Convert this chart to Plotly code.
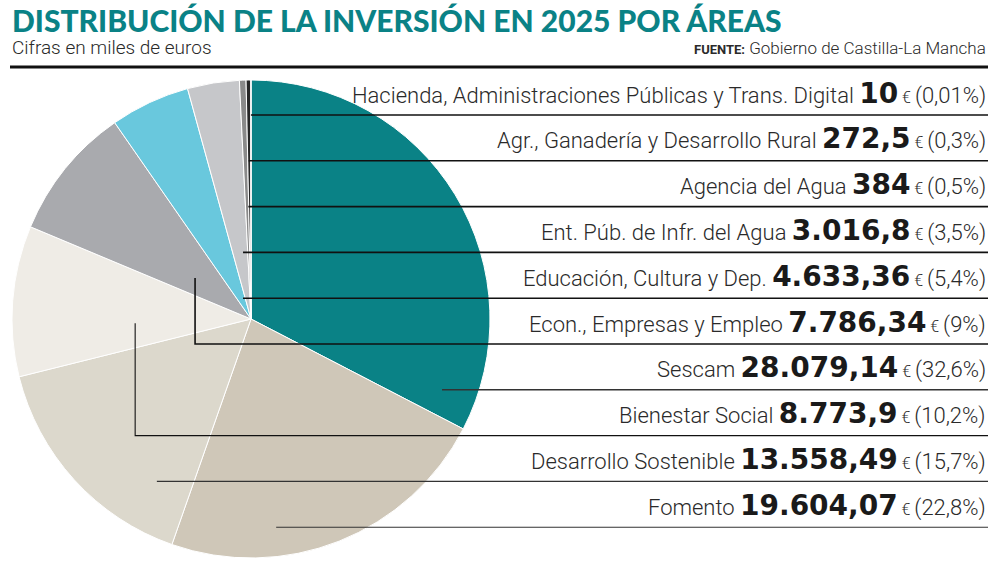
import math
import plotly.graph_objects as go

# ---- data (clockwise from 12 o'clock) ----
areas = ["Sescam", "Fomento", "Desarrollo Sostenible", "Bienestar Social",
         "Econ., Empresas y Empleo", "Educación, Cultura y Dep.",
         "Ent. Púb. de Infr. del Agua", "Agencia del Agua",
         "Agr., Ganadería y Desarrollo Rural",
         "Hacienda, Administraciones Públicas y Trans. Digital"]
values = [28079.14, 19604.07, 13558.49, 8773.9, 7786.34, 4633.36, 3016.8, 384, 272.5, 10]
value_text = ["28.079,14", "19.604,07", "13.558,49", "8.773,9", "7.786,34",
              "4.633,36", "3.016,8", "384", "272,5", "10"]
pct_text = ["32,6%", "22,8%", "15,7%", "10,2%", "9%", "5,4%", "3,5%", "0,5%", "0,3%", "0,01%"]
colors = ["#0a8286", "#cfc7b8", "#dcd8cc", "#efece6", "#a9aaae", "#69c8dd",
          "#c6c7ca", "#8a8a8a", "#262626", "#111111"]
# order of the label list, top to bottom
label_order = ["Hacienda, Administraciones Públicas y Trans. Digital",
               "Agr., Ganadería y Desarrollo Rural", "Agencia del Agua",
               "Ent. Púb. de Infr. del Agua", "Educación, Cultura y Dep.",
               "Econ., Empresas y Empleo", "Sescam", "Bienestar Social",
               "Desarrollo Sostenible", "Fomento"]
# leader anchor: (mode, fraction of slice angle, radius fraction for elbows)
anchors = {"Sescam": ("h", 0.94, None), "Fomento": ("h", 0.68, None),
           "Desarrollo Sostenible": ("h", 0.19, None),
           "Bienestar Social": ("e", 0.325, 0.485),
           "Econ., Empresas y Empleo": ("e", 0.415, 0.29),
           "Educación, Cultura y Dep.": ("h", 0.71, None),
           "Ent. Púb. de Infr. del Agua": ("h", 0.68, None),
           "Agencia del Agua": ("h", 0.9, None),
           "Agr., Ganadería y Desarrollo Rural": ("h", 0.3, None),
           "Hacienda, Administraciones Públicas y Trans. Digital": ("h", 0.5, None)}

W, H = 1000, 578
CX, CY, R = 251, 319, 239
RIGHT = 988
ROW0_TEXT, ROW0_LINE, ROW_STEP = 93, 115, 45.8

def px(x):
    return x / W

def py(y):
    return 1 - y / H

fig = go.Figure()
fig.add_trace(go.Pie(
    labels=areas, values=values, sort=False, direction="clockwise", rotation=0,
    marker=dict(colors=colors, line=dict(color="white", width=1)),
    textinfo="none", hoverinfo="label+value+percent", showlegend=False,
    domain=dict(x=[px(CX - R), px(CX + R)], y=[py(CY + R), py(CY - R)]),
))

total = sum(values)
starts = {}
cum = 0.0
for a, v in zip(areas, values):
    starts[a] = (cum / total * 360, v / total * 360)
    cum += v

shapes = []
annotations = []
label_font = "Roboto"
num_font = "DejaVu Sans"
for i, name in enumerate(label_order):
    k = areas.index(name)
    ty = ROW0_TEXT + ROW_STEP * i
    ly = ROW0_LINE + ROW_STEP * i
    mode, frac, rf = anchors[name]
    st, span = starts[name]
    th = math.radians(st + frac * span)
    lw = 1.6 if i < 7 else 1.1
    lc = "#111111" if name not in ("Sescam", "Desarrollo Sostenible", "Fomento") else "#333333"
    if mode == "h":
        x0 = CX + (CY - ly) * math.tan(th)
        path = f"M {px(x0)} {py(ly)} L {px(RIGHT)} {py(ly)}"
    else:
        x0 = CX + rf * R * math.sin(th)
        y0 = CY - rf * R * math.cos(th)
        path = f"M {px(x0)} {py(y0)} L {px(x0)} {py(ly)} L {px(RIGHT)} {py(ly)}"
    shapes.append(dict(type="path", path=path, xref="paper", yref="paper",
                       line=dict(color=lc, width=lw)))
    txt = (f"{name} <span style='font-family:{num_font};font-weight:bold;font-size:28px;color:#1a1a1a'>{value_text[k]}</span>"
           f"<span style='font-size:16px'> € </span><span style='font-size:22px'>({pct_text[k]})</span>")
    annotations.append(dict(x=px(RIGHT), y=py(ty), xref="paper", yref="paper",
                            xanchor="right", yanchor="middle", showarrow=False,
                            text=txt, font=dict(family=label_font, size=22, color="#2a2a2a", weight=300)))

# header rule
shapes.append(dict(type="line", xref="paper", yref="paper", x0=px(10), x1=px(RIGHT),
                   y0=py(67), y1=py(67), line=dict(color="#111111", width=3)))

annotations.append(dict(x=px(10), y=py(20), xref="paper", yref="paper", xanchor="left",
                        yanchor="middle", showarrow=False,
                        text="DISTRIBUCIÓN DE LA INVERSIÓN EN 2025 POR ÁREAS",
                        font=dict(family="Lato", size=30, color="#0a8286", weight=900)))
annotations.append(dict(x=px(10), y=py(47), xref="paper", yref="paper", xanchor="left",
                        yanchor="middle", showarrow=False, text="Cifras en miles de euros",
                        font=dict(family=label_font, size=19, color="#2a2a2a", weight=300)))
annotations.append(dict(x=px(RIGHT), y=py(48), xref="paper", yref="paper", xanchor="right",
                        yanchor="middle", showarrow=False,
                        text="<span style='font-weight:700;font-size:13px'>FUENTE:</span> Gobierno de Castilla-La Mancha",
                        font=dict(family=label_font, size=17, color="#2a2a2a", weight=300)))

fig.update_layout(width=W, height=H, margin=dict(l=0, r=0, t=0, b=0),
                  paper_bgcolor="white", plot_bgcolor="white",
                  shapes=shapes, annotations=annotations)
fig.write_html("out.html", config={"displayModeBar": False},
               post_script="document.body.style.margin='0';document.body.style.padding='0';")
